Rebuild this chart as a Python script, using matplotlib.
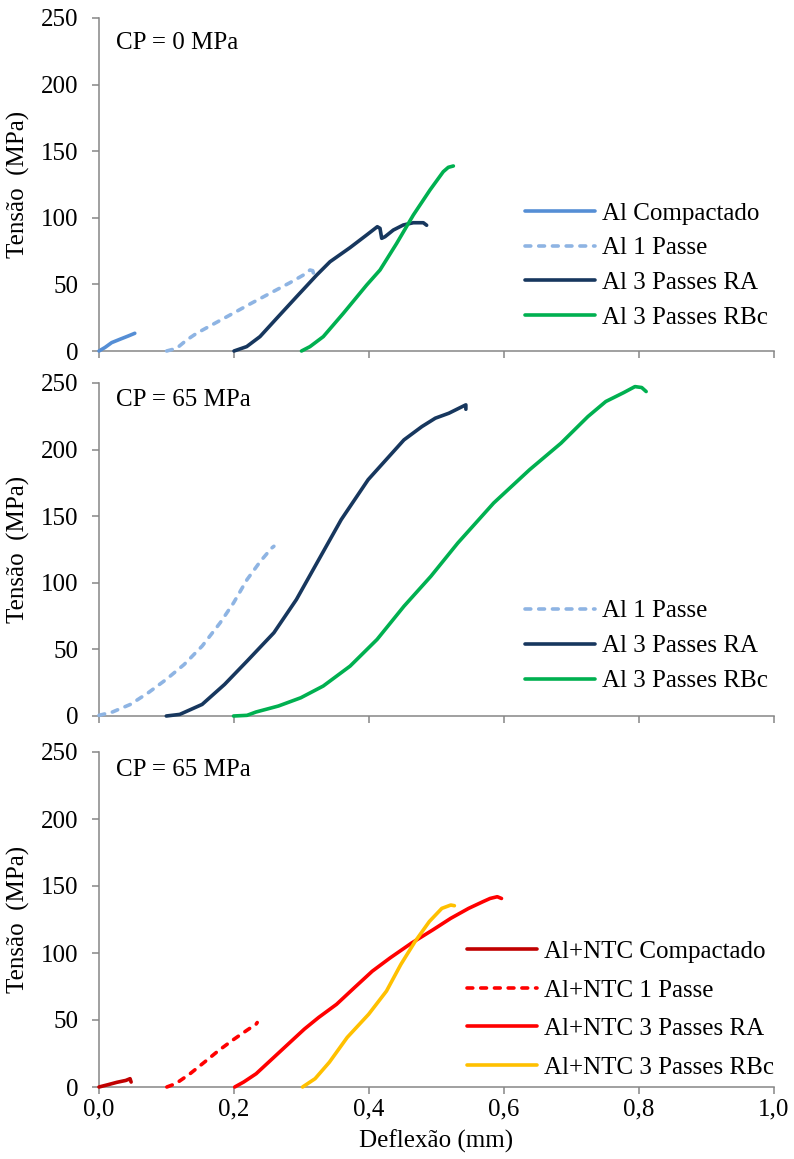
import matplotlib
matplotlib.use("Agg")
import matplotlib.pyplot as plt

plt.rcParams['font.family'] = ['Liberation Serif', 'DejaVu Serif']

# ---- Panel 1: CP = 0 MPa ----
al_comp_x = [0.0, 0.009, 0.0188, 0.031, 0.0435, 0.053]
al_comp_y = [0.0, 2.7, 6.3, 8.8, 11.3, 13.3]

al_1p_x = [0.1002, 0.115, 0.130, 0.1447, 0.1644, 0.194, 0.2237, 0.2533, 0.283, 0.3027, 0.3126, 0.3166, 0.3185]
al_1p_y = [0.0, 2.0, 8.3, 13.3, 18.8, 27.0, 35.3, 43.3, 51.3, 57.0, 60.8, 60.3, 57.0]

al_3ra_x = [0.2, 0.2188, 0.2385, 0.2632, 0.2928, 0.3225, 0.3422, 0.3719, 0.3965, 0.4123, 0.4163,
            0.4188, 0.4237, 0.436, 0.4508, 0.4657, 0.4805, 0.4854]
al_3ra_y = [0.0, 3.3, 10.8, 24.5, 40.8, 57.0, 67.0, 77.6, 87.1, 93.3, 92.1,
            84.6, 85.8, 90.8, 94.6, 96.3, 96.3, 94.4]

al_3rbc_x = [0.3, 0.3126, 0.3323, 0.362, 0.3965, 0.4163, 0.441, 0.4657, 0.4904, 0.51, 0.5175, 0.525]
al_3rbc_y = [0.0, 3.3, 10.8, 28.3, 49.5, 60.8, 80.8, 102.1, 120.9, 134.6, 137.9, 138.9]

# ---- Panel 2: CP = 65 MPa ----
al65_1p_x = [0.0, 0.0199, 0.0465, 0.0731, 0.0997, 0.1262, 0.1528, 0.1794, 0.1993, 0.2193, 0.2392, 0.2558, 0.2591]
al65_1p_y = [0.5, 3.0, 8.7, 17.5, 27.5, 38.7, 52.5, 69.9, 84.9, 102.4, 116.2, 126.1, 127.4]

al65_3ra_x = [0.0997, 0.1196, 0.1528, 0.186, 0.2193, 0.2591, 0.2924, 0.3256, 0.3588, 0.3987, 0.4319,
              0.4518, 0.4784, 0.4983, 0.5183, 0.5382, 0.5435, 0.5435]
al65_3ra_y = [0.0, 1.2, 8.7, 23.7, 41.2, 62.5, 87.4, 117.4, 147.4, 177.4, 196.1,
              207.3, 217.3, 223.6, 227.3, 232.3, 233.6, 230.3]

al65_3rbc_x = [0.1993, 0.2193, 0.2326, 0.2658, 0.299, 0.3322, 0.3721, 0.412, 0.4518, 0.4917, 0.5316,
               0.5847, 0.6379, 0.6844, 0.7243, 0.7508, 0.7774, 0.794, 0.804, 0.8106]
al65_3rbc_y = [0.0, 0.5, 3.0, 7.5, 13.7, 22.5, 37.5, 57.5, 82.4, 104.9, 129.9,
               159.9, 184.9, 204.8, 224.8, 236.1, 242.8, 247.3, 246.6, 243.6]

# ---- Panel 3: Al+NTC, CP = 65 MPa ----
ntc_comp_x = [0.0, 0.0132, 0.0265, 0.0397, 0.046, 0.0476]
ntc_comp_y = [0.0, 1.7, 3.5, 4.9, 6.2, 3.7]

ntc_1p_x = [0.1005, 0.1138, 0.1349, 0.1561, 0.1772, 0.1984, 0.2196, 0.2328, 0.2344]
ntc_1p_y = [0.0, 2.5, 9.9, 18.5, 27.2, 35.1, 42.5, 46.9, 48.1]

ntc_3ra_x = [0.2011, 0.2143, 0.2328, 0.2566, 0.2778, 0.3042, 0.3254, 0.3519, 0.3783, 0.4048, 0.4312,
             0.463, 0.4947, 0.5212, 0.5476, 0.5688, 0.5794, 0.59, 0.5963]
ntc_3ra_y = [0.0, 3.7, 9.9, 21.0, 30.9, 43.2, 51.9, 61.7, 74.1, 86.4, 96.3,
             107.4, 117.3, 125.9, 133.3, 138.3, 140.7, 142.0, 140.7]

ntc_3rbc_x = [0.3016, 0.3201, 0.3413, 0.3677, 0.3995, 0.4259, 0.4471, 0.4683, 0.4894, 0.5079, 0.5212, 0.5265]
ntc_3rbc_y = [0.0, 6.2, 18.5, 37.0, 54.3, 71.6, 91.4, 108.6, 123.5, 133.3, 135.8, 135.3]

x_ticks = [0.0, 0.2, 0.4, 0.6, 0.8, 1.0]
x_tick_labels = ["0,0", "0,2", "0,4", "0,6", "0,8", "1,0"]
y_ticks = [0, 50, 100, 150, 200, 250]
y_tick_labels = ["0", "50", "100", "150", "200", "250"]

panel_titles = ["CP = 0 MPa", "CP = 65 MPa", "CP = 65 MPa"]
y_label = "Tensão  (MPa)"
x_label = "Deflexão (mm)"

# colours
C_COMP = "#558ED5"
C_1P = "#8EB4E3"
C_RA = "#17375E"
C_RBC = "#00B050"
C_NTC_COMP = "#C00000"
C_NTC_RED = "#FF0000"
C_NTC_RBC = "#FFC000"

GRAY = "#868686"
FS = 18
LW = 2.6
DASH = (0, (1.6, 2.2))

W, H = 794, 1159
fig = plt.figure(figsize=(W / 100, H / 100), dpi=100)


def px_axes(left, right, top, bottom):
    return [left / W, 1 - bottom / H, (right - left) / W, (bottom - top) / H]


axes = [
    fig.add_axes(px_axes(99, 774, 18, 351)),
    fig.add_axes(px_axes(99, 774, 383, 716)),
    fig.add_axes(px_axes(99, 774, 752, 1087)),
]

series = [
    [
        (al_comp_x, al_comp_y, C_COMP, "-", "Al Compactado"),
        (al_1p_x, al_1p_y, C_1P, DASH, "Al 1 Passe"),
        (al_3ra_x, al_3ra_y, C_RA, "-", "Al 3 Passes RA"),
        (al_3rbc_x, al_3rbc_y, C_RBC, "-", "Al 3 Passes RBc"),
    ],
    [
        (al65_1p_x, al65_1p_y, C_1P, DASH, "Al 1 Passe"),
        (al65_3ra_x, al65_3ra_y, C_RA, "-", "Al 3 Passes RA"),
        (al65_3rbc_x, al65_3rbc_y, C_RBC, "-", "Al 3 Passes RBc"),
    ],
    [
        (ntc_comp_x, ntc_comp_y, C_NTC_COMP, "-", "Al+NTC Compactado"),
        (ntc_1p_x, ntc_1p_y, C_NTC_RED, DASH, "Al+NTC 1 Passe"),
        (ntc_3ra_x, ntc_3ra_y, C_NTC_RED, "-", "Al+NTC 3 Passes RA"),
        (ntc_3rbc_x, ntc_3rbc_y, C_NTC_RBC, "-", "Al+NTC 3 Passes RBc"),
    ],
]

title_y = [0.907, 0.931, 0.928]
legend_anchor = [(0.631, 0.2568), (0.631, 0.2102), (0.545, 0.2313)]
legend_spacing = [0.49, 0.50, 0.64]

for i, ax in enumerate(axes):
    for xs, ys, col, ls, lab in series[i]:
        ax.plot(xs, ys, color=col, linestyle=ls, linewidth=LW, label=lab,
                solid_capstyle="round", dash_capstyle="round",
                solid_joinstyle="round", zorder=3, clip_on=False)

    ax.set_xlim(0, 1.0)
    ax.set_ylim(0, 250)
    ax.set_xticks(x_ticks)
    ax.set_yticks(y_ticks)
    ax.set_yticklabels(y_tick_labels)
    if i == 2:
        ax.set_xticklabels(x_tick_labels)
    else:
        ax.set_xticklabels([])

    for side in ("top", "right"):
        ax.spines[side].set_visible(False)
    for side in ("left", "bottom"):
        ax.spines[side].set_color(GRAY)
        ax.spines[side].set_linewidth(1.1)

    ax.tick_params(axis="both", direction="out", length=5, width=1.1,
                   color=GRAY, labelcolor="black", labelsize=FS)
    ax.tick_params(axis="y", pad=10)
    ax.tick_params(axis="x", pad=3)

    ax.text(0.025, title_y[i], panel_titles[i], transform=ax.transAxes,
            fontsize=FS, ha="left", va="baseline")

    ax.legend(loc="center left", bbox_to_anchor=legend_anchor[i], frameon=False,
              fontsize=FS, handlelength=2.8, handletextpad=0.28,
              labelspacing=legend_spacing[i], borderpad=0, borderaxespad=0)

    # y label centred on each panel
    bb = ax.get_position()
    fig.text(18 / W, (bb.y0 + bb.y1) / 2, y_label, rotation=90,
             ha="center", va="center", fontsize=FS)

axes[2].set_xlabel(x_label, fontsize=FS, labelpad=7)

fig.savefig("out.png", dpi=100)
